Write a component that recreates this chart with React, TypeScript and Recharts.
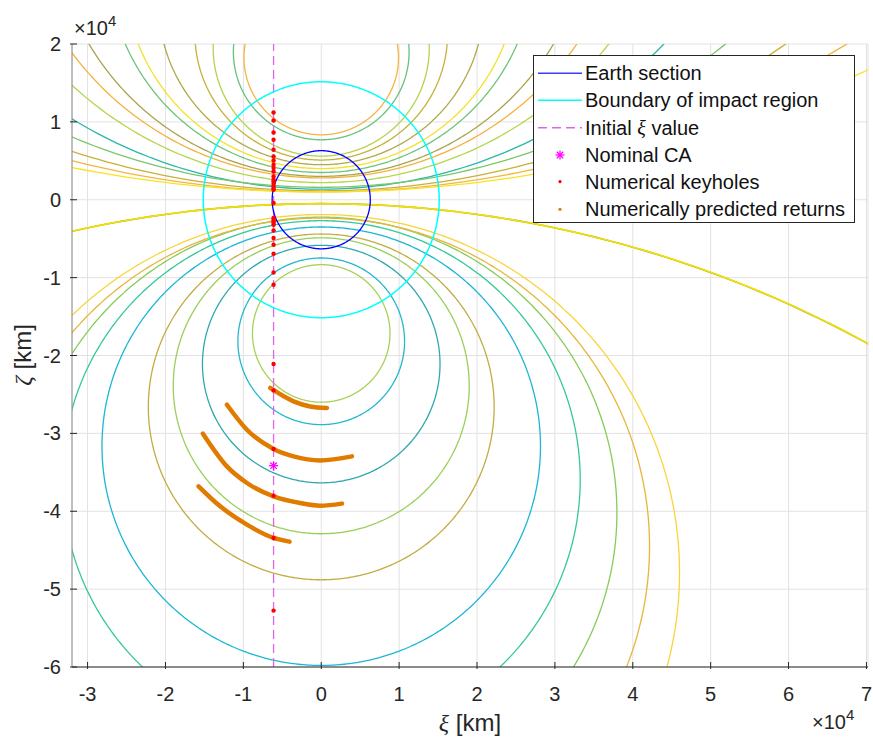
import React from "react";
import {
  ComposedChart,
  Line,
  Scatter,
  XAxis,
  YAxis,
  CartesianGrid,
  ReferenceLine,
} from "recharts";

const FONT = "'Liberation Sans', Arial, Helvetica, sans-serif";
const SERIF = "'Liberation Serif', 'DejaVu Serif', serif";

// b-plane coordinates, km
const xTicks = [-30000, -20000, -10000, 0, 10000, 20000, 30000, 40000, 50000, 60000, 70000];
const yTicks = [-60000, -50000, -40000, -30000, -20000, -10000, 0, 10000, 20000];

const earthRadius = 6300;
const impactRadius = 15150;
const initialXi = -6120;
const nominalCaZeta = -34150;

// resonance circles, all centred on the zeta axis (centre zeta, radius)
const upperCentres = [18260, 18980, 19470, 21320, 25400, 29240, 30930, 37650, 42710, 49400, 62600, 84000, 104900, 130300, 166000];
const upperRadii = [9920, 11280, 13870, 16220, 20900, 25240, 27430, 34650, 39910, 47200, 61240, 82400, 103750, 129300, 165000];
const lowerCentres = [-17170, -18180, -21100, -23890, -26600, -31650, -35940, -40200, -44500, -47900];
const lowerRadii = [8830, 10700, 15250, 19000, 22200, 28150, 33250, 37960, 42150, 46000];
const flatCentres = [-146400, -146700];
const flatRadii = [145900, 146200];

const upperColours = ["#f6b445", "#66c27c", "#b5d34a", "#c6b23a", "#b0aa48", "#f4e12a", "#6dc47a", "#aaa44c", "#f5b13c", "#b4d64c", "#2ab8a8", "#7cc66a", "#c8b038", "#f7b43f", "#f6e424"];
const lowerColours = ["#a8d15a", "#22b8cf", "#2fa9ad", "#9bcf5c", "#c1ad45", "#1db6d6", "#35c89a", "#86cc5a", "#e6b63a", "#f8d43a"];
const flatColours = ["#9c9c40", "#f2e200"];

// keyholes found along the initial xi line
const keyholeZeta = [
  11210, 10180, 8640, 7700, 6420, 5560, 5040, 4490, 4070, 3630, 2990, 2570, 2350, 2050, 1710, 1410, 1280,
  -420, -2350, -2570, -2790, -2990, -3210, -3940, -4920, -5780, -6930, -9330, -10910,
  -21090, -24480, -32000, -38000, -43430, -52760,
];

// predicted return arcs
const arc1Xi = [-6550, -3560, -1410, 730];
const arc1Zeta = [-24170, -25890, -26540, -26740];
const arc2Xi = [-12110, -9540, -6120, -3560, -130, 3940];
const arc2Zeta = [-26320, -29530, -32000, -32950, -33470, -32950];
const arc3Xi = [-15190, -12110, -9540, -6120, -2700, -130, 2660];
const arc3Zeta = [-30040, -34240, -36370, -38090, -38940, -39280, -39020];
const arc4Xi = [-15750, -12970, -9540, -6120, -4070];
const arc4Zeta = [-36800, -39370, -41720, -43430, -43900];

const SEGMENTS = 540;
function circle(cz: number, r: number) {
  const pts: { x: number; y: number }[] = [];
  for (let i = 0; i <= SEGMENTS; i++) {
    const t = (2 * Math.PI * i) / SEGMENTS;
    pts.push({ x: r * Math.cos(t), y: cz + r * Math.sin(t) });
  }
  return pts;
}

const zip = (xs: number[], ys: number[]) => xs.map((x, i) => ({ x, y: ys[i] }));

const keyholes = keyholeZeta.map((y) => ({ x: initialXi, y }));
const nominal = [{ x: initialXi, y: nominalCaZeta }];
const arcs = [zip(arc1Xi, arc1Zeta), zip(arc2Xi, arc2Zeta), zip(arc3Xi, arc3Zeta), zip(arc4Xi, arc4Zeta)];

const XTick = (props: any) => {
  const { x, y, payload } = props;
  return (
    <g>
      <line x1={x} x2={x} y1={y} y2={y - 7} stroke="#262626" />
      <text x={x} y={y + 32} textAnchor="middle" fontFamily={FONT} fontSize={20} fill="#262626">
        {payload.value / 10000}
      </text>
    </g>
  );
};

const YTick = (props: any) => {
  const { x, y, payload } = props;
  return (
    <g>
      <line x1={x} x2={x + 7} y1={y} y2={y} stroke="#262626" />
      <text x={x - 9} y={y + 7} textAnchor="end" fontFamily={FONT} fontSize={20} fill="#262626">
        {payload.value / 10000}
      </text>
    </g>
  );
};

const Asterisk = (props: any) => {
  const { cx, cy } = props;
  const s = 4.5;
  const d = 3.2;
  return (
    <g stroke="#ff00ff" strokeWidth={1.3}>
      <line x1={cx - s} x2={cx + s} y1={cy} y2={cy} />
      <line x1={cx} x2={cx} y1={cy - s} y2={cy + s} />
      <line x1={cx - d} x2={cx + d} y1={cy - d} y2={cy + d} />
      <line x1={cx - d} x2={cx + d} y1={cy + d} y2={cy - d} />
    </g>
  );
};

const Dot = (props: any) => <circle cx={props.cx} cy={props.cy} r={2.2} fill="#ff0000" />;

function LegendBox() {
  const rows = [17.3, 44.3, 71.7, 99, 125.7, 153.3];
  const tx = 51;
  return (
    <div
      style={{
        position: "absolute",
        left: 533,
        top: 55,
        width: 320,
        height: 166,
        border: "1px solid #262626",
        background: "#fff",
      }}
    >
      <svg width={320} height={166} style={{ display: "block" }}>
        <g fontFamily={FONT} fontSize={20} fill="#111">
          <line x1={4} x2={48} y1={rows[0]} y2={rows[0]} stroke="#3c3cff" strokeWidth={1.6} />
          <text x={tx} y={rows[0] + 7}>Earth section</text>
          <line x1={4} x2={48} y1={rows[1]} y2={rows[1]} stroke="#00ffff" strokeWidth={1.6} />
          <text x={tx} y={rows[1] + 7}>Boundary of impact region</text>
          <line x1={4} x2={48} y1={rows[2]} y2={rows[2]} stroke="#e066e6" strokeWidth={1.4} strokeDasharray="9 5" />
          <text x={tx} y={rows[2] + 7}>
            Initial <tspan fontFamily={SERIF} fontStyle="italic">ξ</tspan> value
          </text>
          <Asterisk cx={26} cy={rows[3]} />
          <text x={tx} y={rows[3] + 7}>Nominal CA</text>
          <circle cx={26} cy={rows[4]} r={1.6} fill="#ff0000" />
          <text x={tx} y={rows[4] + 7}>Numerical keyholes</text>
          <circle cx={26} cy={rows[5]} r={1.6} fill="#e07b00" />
          <text x={tx} y={rows[5] + 7}>Numerically predicted returns</text>
        </g>
      </svg>
    </div>
  );
}

export default function App() {
  return (
    <div style={{ position: "absolute", left: 0, top: 0, width: 873, height: 742, background: "#fff" }}>
      <ComposedChart width={873} height={742} margin={{ top: 44, right: 5, bottom: 0, left: 0 }}>
        <CartesianGrid stroke="#e2e2e2" />
        <XAxis
          type="number"
          dataKey="x"
          domain={[-32000, 70200]}
          ticks={xTicks}
          interval={0}
          allowDataOverflow
          height={75}
          tickSize={0}
          tickLine={false}
          tick={<XTick />}
          axisLine={{ stroke: "#262626" }}
        />
        <YAxis
          type="number"
          dataKey="y"
          domain={[-60000, 20000]}
          ticks={yTicks}
          interval={0}
          allowDataOverflow
          width={72}
          tickSize={0}
          tickLine={false}
          tick={<YTick />}
          axisLine={{ stroke: "#8c8c8c" }}
        />
        {upperCentres.map((c, i) => (
          <Line key={"u" + i} data={circle(c, upperRadii[i])} dataKey="y" type="linear" dot={false}
            stroke={upperColours[i]} strokeWidth={1.3} isAnimationActive={false} />
        ))}
        {lowerCentres.map((c, i) => (
          <Line key={"l" + i} data={circle(c, lowerRadii[i])} dataKey="y" type="linear" dot={false}
            stroke={lowerColours[i]} strokeWidth={1.3} isAnimationActive={false} />
        ))}
        {flatCentres.map((c, i) => (
          <Line key={"f" + i} data={circle(c, flatRadii[i])} dataKey="y" type="linear" dot={false}
            stroke={flatColours[i]} strokeWidth={1.6} isAnimationActive={false} />
        ))}
        <ReferenceLine x={initialXi} stroke="#e066e6" strokeWidth={1.3} strokeDasharray="9 5" />
        <Line data={circle(0, earthRadius)} dataKey="y" type="linear" dot={false}
          stroke="#0000ff" strokeWidth={1.3} isAnimationActive={false} />
        <Line data={circle(0, impactRadius)} dataKey="y" type="linear" dot={false}
          stroke="#00ffff" strokeWidth={1.5} isAnimationActive={false} />
        {arcs.map((a, i) => (
          <Line key={"a" + i} data={a} dataKey="y" type="monotone" dot={false}
            stroke="#e07b00" strokeWidth={4.5} strokeLinecap="round" isAnimationActive={false} />
        ))}
        <Scatter data={nominal} shape={<Asterisk />} isAnimationActive={false} />
        <Scatter data={keyholes} shape={<Dot />} isAnimationActive={false} />
      </ComposedChart>

      <svg width={873} height={742} style={{ position: "absolute", left: 0, top: 0, pointerEvents: "none" }}>
        <g fontFamily={FONT} fill="#262626">
          <text x={74} y={35} fontSize={20}>
            ×10<tspan fontSize={15} dy={-9}>4</tspan>
          </text>
          <text x={812} y={729} fontSize={20}>
            ×10<tspan fontSize={15} dy={-9}>4</tspan>
          </text>
          <text x={470} y={731} fontSize={24} textAnchor="middle">
            <tspan fontFamily={SERIF} fontStyle="italic">ξ</tspan> [km]
          </text>
          <text x={0} y={0} fontSize={24} textAnchor="middle" transform="translate(31 355) rotate(-90)">
            <tspan fontFamily={SERIF} fontStyle="italic">ζ</tspan> [km]
          </text>
        </g>
      </svg>
      <LegendBox />
    </div>
  );
}
